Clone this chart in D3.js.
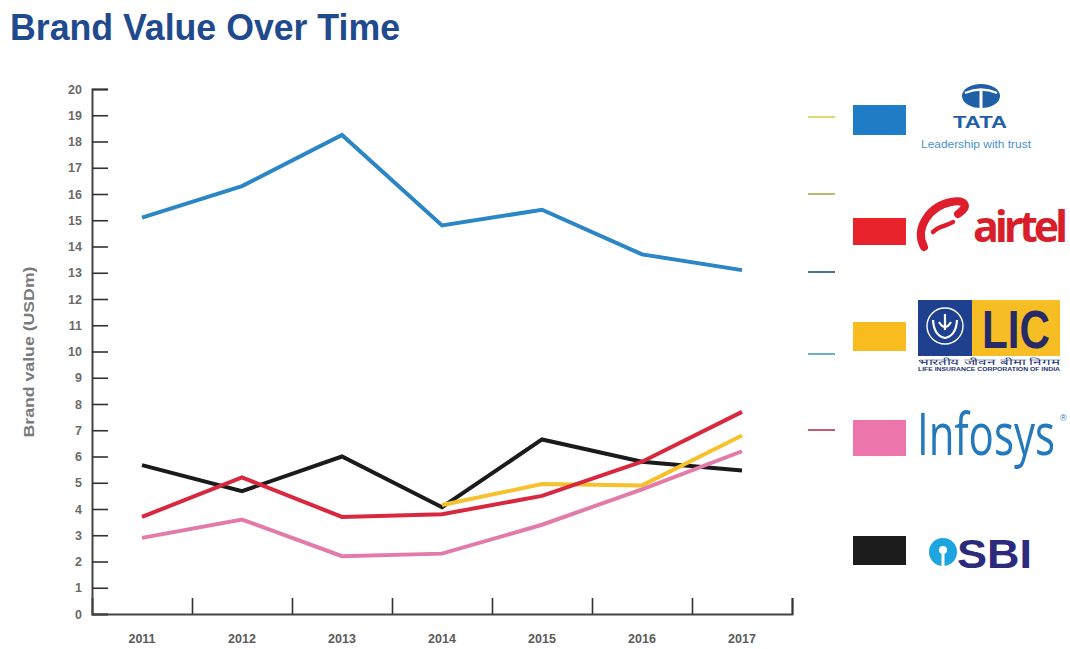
<!DOCTYPE html>
<html>
<head>
<meta charset="utf-8">
<script src="https://cdn.jsdelivr.net/npm/d3@7"></script>
<style>
  body { margin: 0; background: #fff; }
  svg { display: block; font-family: "Liberation Sans", Arial, sans-serif; }
</style>
</head>
<body>
<div class="canvas"></div>
<script>
// data (USD bn)
const years = ['2011', '2012', '2013', '2014', '2015', '2016', '2017'];
const tata = [15.1, 16.3, 18.25, 14.8, 15.4, 13.7, 13.1];
const airtel = [3.7, 5.2, 3.7, 3.8, 4.5, 5.8, 7.7];
const lic = [null, null, null, 4.15, 4.95, 4.9, 6.8];
const infosys = [2.9, 3.6, 2.2, 2.3, 3.4, 4.75, 6.2];
const sbi = [5.67, 4.68, 6.0, 4.07, 6.65, 5.8, 5.47];
const yTicks = d3.range(0, 21);

const series = [
    { name: 'TATA', values: tata, color: '#2b86c5' },
    { name: 'SBI', values: sbi, color: '#1b1b1b' },
    { name: 'LIC', values: lic, color: '#f6c12c' },
    { name: 'Infosys', values: infosys, color: '#e27aaa' },
    { name: 'airtel', values: airtel, color: '#d8283f' }
];

const svg = d3.select('.canvas')
    .append('svg')
    .attr('width', 1070)
    .attr('height', 649);

// title
svg.append('text')
    .attr('x', 10)
    .attr('y', 40)
    .attr('font-size', 36)
    .attr('font-weight', 'bold')
    .attr('fill', '#1f4b8e')
    .attr('textLength', 390)
    .attr('lengthAdjust', 'spacingAndGlyphs')
    .text('Brand Value Over Time');

// scales
const x = d3.scaleBand()
    .domain(years)
    .range([92, 792]);

const xEdge = d3.scaleLinear()
    .domain([0, years.length])
    .range([92, 792]);

const y = d3.scaleLinear()
    .domain([0, 20])
    .range([614, 89]);

// y axis, ticks point inwards
const yAxis = d3.axisLeft(y)
    .tickValues(yTicks)
    .tickSize(-16)
    .tickPadding(10)
    .tickFormat(d3.format('d'));

const yAxisGroup = svg.append('g')
    .attr('transform', 'translate(92,0)')
    .call(yAxis);
yAxisGroup.select('.domain').attr('stroke', '#444').attr('stroke-width', 2);
yAxisGroup.selectAll('line').attr('stroke', '#333').attr('stroke-width', 1.6);
yAxisGroup.selectAll('text')
    .attr('font-size', 12.5)
    .attr('font-weight', 'bold')
    .attr('fill', '#6a6a6a')
    .attr('font-family', '"Liberation Sans", Arial, sans-serif');

// x axis: ticks on band edges, labels on band centres
const xEdgeAxis = d3.axisBottom(xEdge)
    .tickValues(d3.range(1, years.length + 1))
    .tickSize(-16)
    .tickFormat('');

const xAxisGroup = svg.append('g')
    .attr('transform', 'translate(0,614)')
    .call(xEdgeAxis);
xAxisGroup.select('.domain').attr('stroke', '#444').attr('stroke-width', 2);
xAxisGroup.selectAll('line').attr('stroke', '#333').attr('stroke-width', 1.6);

const xLabelGroup = svg.append('g')
    .attr('transform', 'translate(0,614)')
    .call(d3.axisBottom(x).tickSize(0).tickPadding(20));
xLabelGroup.select('.domain').remove();
xLabelGroup.selectAll('text')
    .attr('font-size', 12.5)
    .attr('font-weight', 'bold')
    .attr('fill', '#5a5a5a')
    .attr('font-family', '"Liberation Sans", Arial, sans-serif');

// y axis title
svg.append('text')
    .attr('transform', 'translate(34,352) rotate(-90)')
    .attr('text-anchor', 'middle')
    .attr('font-size', 15)
    .attr('font-weight', 'bold')
    .attr('fill', '#7a7a7a')
    .attr('textLength', 171)
    .attr('lengthAdjust', 'spacingAndGlyphs')
    .text('Brand value (USDm)');

// lines
const line = d3.line()
    .defined(d => d.v !== null)
    .x(d => x(d.year) + x.bandwidth() / 2)
    .y(d => y(d.v));

svg.append('g')
    .selectAll('path')
    .data(series)
    .enter()
    .append('path')
    .attr('d', s => line(years.map((yr, i) => ({ year: yr, v: s.values[i] }))))
    .attr('fill', 'none')
    .attr('stroke', s => s.color)
    .attr('stroke-width', 4)
    .attr('stroke-linejoin', 'miter');

// legend
const legendNames = ['TATA', 'airtel', 'LIC', 'Infosys', 'SBI'];
const swatchColors = ['#1f7dc7', '#e8232c', '#f9bc1e', '#ec75ac', '#1c1c1c'];
const swatchTop = [105, 218, 322, 420, 536];
const swatchH = [30, 27, 29, 36, 29];
const dashColors = ['#d8cc56', '#a9a94a', '#1d4d7c', '#4a98c8', '#b0344e'];
const dashY = [117, 194, 272, 354, 430];

const legend = svg.append('g');

legend.selectAll('line.dash')
    .data(dashY)
    .enter()
    .append('line')
    .attr('class', 'dash')
    .attr('x1', 808).attr('x2', 835)
    .attr('y1', d => d).attr('y2', d => d)
    .attr('stroke', (d, i) => dashColors[i])
    .attr('stroke-width', 1.6);

legend.selectAll('rect.swatch')
    .data(legendNames)
    .enter()
    .append('rect')
    .attr('class', 'swatch')
    .attr('x', 853)
    .attr('y', (d, i) => swatchTop[i])
    .attr('width', 53)
    .attr('height', (d, i) => swatchH[i])
    .attr('fill', (d, i) => swatchColors[i]);

// TATA mark
const tataG = legend.append('g');
tataG.append('ellipse')
    .attr('cx', 981).attr('cy', 96).attr('rx', 19).attr('ry', 12)
    .attr('fill', '#1e5fa6');
tataG.append('path')
    .attr('d', 'M965 93 Q981 86 997 93')
    .attr('fill', 'none').attr('stroke', '#fff').attr('stroke-width', 2.4);
tataG.append('path')
    .attr('d', 'M981 89.5 L981 108')
    .attr('stroke', '#fff').attr('stroke-width', 3);
tataG.append('text')
    .attr('x', 980).attr('y', 128)
    .attr('text-anchor', 'middle')
    .attr('font-size', 16).attr('font-weight', 900)
    .attr('fill', '#1e5fa6')
    .attr('textLength', 54)
    .attr('lengthAdjust', 'spacingAndGlyphs')
    .text('TATA');
tataG.append('text')
    .attr('x', 976).attr('y', 148)
    .attr('text-anchor', 'middle')
    .attr('font-size', 10)
    .attr('fill', '#4d8fcc')
    .attr('textLength', 110)
    .attr('lengthAdjust', 'spacingAndGlyphs')
    .text('Leadership with trust');

// airtel mark
const airG = legend.append('g');
airG.append('path')
    .attr('d', 'M958 214 C970 206 965 199 951 202 C930 206 914 228 924 247')
    .attr('fill', 'none').attr('stroke', '#de1e2c').attr('stroke-width', 8)
    .attr('stroke-linecap', 'round');
airG.append('path')
    .attr('d', 'M933 232 C938 226 947 226 953 222')
    .attr('fill', 'none').attr('stroke', '#de1e2c').attr('stroke-width', 4.5)
    .attr('stroke-linecap', 'round');
airG.append('text')
    .attr('x', 973).attr('y', 242)
    .attr('font-size', 43).attr('font-weight', 'bold')
    .attr('font-family', '"Open Sans", sans-serif')
    .attr('fill', '#d91e2b')
    .attr('textLength', 95)
    .text('airtel');

// LIC mark
const licG = legend.append('g');
licG.append('rect')
    .attr('x', 918).attr('y', 300).attr('width', 54).attr('height', 56)
    .attr('fill', '#1f3f8f');
licG.append('rect')
    .attr('x', 972).attr('y', 300).attr('width', 88).attr('height', 56)
    .attr('fill', '#f7bd25');
licG.append('circle')
    .attr('cx', 945).attr('cy', 326).attr('r', 18)
    .attr('fill', 'none').attr('stroke', '#fff').attr('stroke-width', 1.4);
licG.append('path')
    .attr('d', 'M933 320 Q934 336 945 338 Q956 336 957 320 M939 322 Q945 332 951 322 M945 314 L945 330')
    .attr('fill', 'none').attr('stroke', '#fff').attr('stroke-width', 2.2);
licG.append('text')
    .attr('x', 982).attr('y', 348)
    .attr('font-size', 54).attr('font-weight', 'bold')
    .attr('fill', '#262a66')
    .attr('textLength', 68)
    .attr('lengthAdjust', 'spacingAndGlyphs')
    .text('LIC');
licG.append('text')
    .attr('x', 918).attr('y', 365)
    .attr('font-size', 8.5)
    .attr('fill', '#233374')
    .attr('textLength', 142)
    .attr('lengthAdjust', 'spacingAndGlyphs')
    .text('भारतीय जीवन बीमा निगम');
licG.append('text')
    .attr('x', 918).attr('y', 371)
    .attr('font-size', 4.5)
    .attr('font-weight', 'bold')
    .attr('fill', '#233374')
    .attr('textLength', 142)
    .attr('lengthAdjust', 'spacingAndGlyphs')
    .text('LIFE INSURANCE CORPORATION OF INDIA');

// Infosys mark, squeezed by a transform so it keeps to 138px
const infText = legend.append('text')
    .attr('font-size', 58)
    .attr('font-family', '"Open Sans", sans-serif')
    .attr('fill', '#2479bd')
    .text('Infosys');
const infW = infText.node().getComputedTextLength();
infText.attr('transform', `translate(917,455) scale(${138 / infW},1)`);
legend.append('text')
    .attr('x', 1060).attr('y', 421)
    .attr('font-size', 9)
    .attr('fill', '#2479bd')
    .text('®');

// SBI mark
const sbiG = legend.append('g');
sbiG.append('circle')
    .attr('cx', 943).attr('cy', 552).attr('r', 14)
    .attr('fill', '#1ea5e0');
sbiG.append('circle')
    .attr('cx', 943).attr('cy', 550).attr('r', 4)
    .attr('fill', '#fff');
sbiG.append('rect')
    .attr('x', 941.5).attr('y', 551).attr('width', 3).attr('height', 15)
    .attr('fill', '#fff');
sbiG.append('text')
    .attr('x', 957).attr('y', 568)
    .attr('font-size', 40).attr('font-weight', 'bold')
    .attr('fill', '#2b2a7d')
    .attr('textLength', 75)
    .attr('lengthAdjust', 'spacingAndGlyphs')
    .text('SBI');
</script>
</body>
</html>
